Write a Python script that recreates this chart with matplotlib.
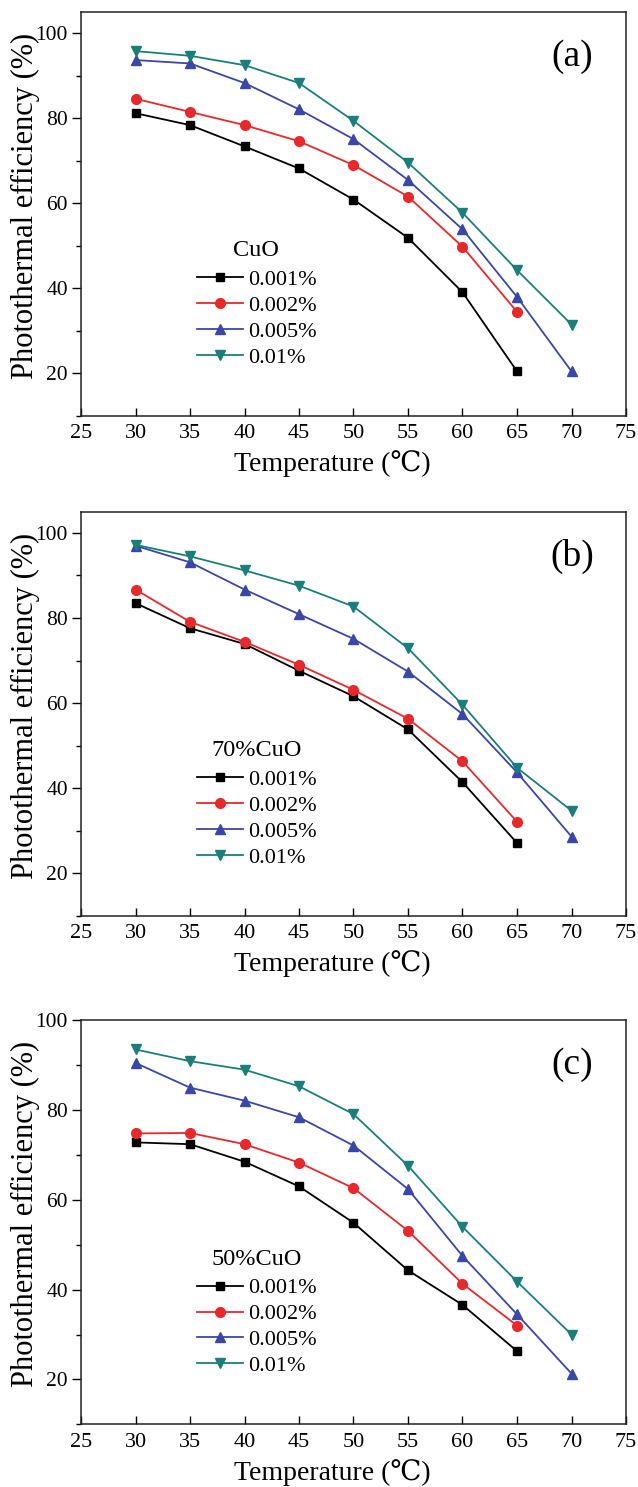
import matplotlib
matplotlib.use('Agg')
import matplotlib.pyplot as plt
from matplotlib.ticker import MultipleLocator

plt.rcParams['font.family'] = ['Liberation Serif', 'DejaVu Serif', 'Noto Sans CJK SC']

temps = [30, 35, 40, 45, 50, 55, 60, 65, 70]
labels = ['0.001%', '0.002%', '0.005%', '0.01%']

# panel (a): CuO
cuo_001 = [81.2, 78.4, 73.4, 68.2, 60.9, 51.9, 39.1, 20.5]
cuo_002 = [84.6, 81.5, 78.4, 74.6, 69.0, 61.6, 49.8, 34.5]
cuo_005 = [93.7, 92.9, 88.3, 82.1, 75.1, 65.5, 53.9, 38.0, 20.5]
cuo_01 = [95.8, 94.7, 92.5, 88.3, 79.4, 69.6, 57.8, 44.3, 31.5]

# panel (b): 70%CuO
c70_001 = [83.5, 77.6, 73.9, 67.6, 61.6, 53.8, 41.4, 27.1]
c70_002 = [86.7, 79.1, 74.4, 69.0, 63.1, 56.3, 46.3, 32.1]
c70_005 = [97.0, 93.1, 86.7, 80.9, 75.1, 67.4, 57.4, 43.7, 28.6]
c70_01 = [97.2, 94.5, 91.2, 87.6, 82.7, 72.9, 59.6, 44.8, 34.7]

# panel (c): 50%CuO
c50_001 = [72.8, 72.4, 68.5, 63.0, 54.9, 44.3, 36.6, 26.3]
c50_002 = [74.8, 74.9, 72.4, 68.3, 62.6, 53.1, 41.3, 32.0]
c50_005 = [90.5, 85.0, 82.1, 78.4, 72.1, 62.4, 47.5, 34.5, 21.3]
c50_01 = [93.5, 90.9, 89.0, 85.3, 79.1, 67.6, 54.0, 41.8, 30.0]

panels = [
    ('(a)', 'CuO', [cuo_001, cuo_002, cuo_005, cuo_01], 105),
    ('(b)', '70%CuO', [c70_001, c70_002, c70_005, c70_01], 105),
    ('(c)', '50%CuO', [c50_001, c50_002, c50_005, c50_01], 100),
]

colors = ['#000000', '#e8282a', '#3a46a8', '#1a7f7a']
markers = ['s', 'o', '^', 'v']
msizes = [6.3, 7, 7.8, 7.8]

W, H = 638, 1487
fig = plt.figure(figsize=(W / 100, H / 100), dpi=100)

bottoms = [416, 915.7, 1424.3]
for (tag, title, series, ytop), bot in zip(panels, bottoms):
    ax = fig.add_axes([81 / W, 1 - bot / H, 545 / W, 404 / H])
    for ys, c, m, ms, lab in zip(series, colors, markers, msizes, labels):
        ax.plot(temps[:len(ys)], ys, color=c, marker=m, markersize=ms,
                linewidth=1.3, label=lab)

    ax.set_xlim(25, 75)
    ax.set_ylim(10, ytop)
    ax.xaxis.set_major_locator(MultipleLocator(5))
    ax.yaxis.set_major_locator(MultipleLocator(20))
    ax.yaxis.set_minor_locator(MultipleLocator(10))
    ax.tick_params(axis='x', direction='in', length=5.5, width=1, labelsize=16, pad=6)
    ax.tick_params(axis='y', which='major', direction='out', length=6.5, width=1,
                   labelsize=15.5, pad=3)
    ax.tick_params(axis='y', which='minor', direction='out', length=3.5, width=1)
    for sp in ax.spines.values():
        sp.set_linewidth(1.1)
        sp.set_color('#222222')

    ax.set_xlabel('Temperature (℃)', fontsize=20)
    ax.xaxis.set_label_coords(0.462, -0.085)
    ax.set_ylabel('Photothermal efficiency (%)', fontsize=22)
    ax.yaxis.set_label_coords(-0.076, 0.52)
    ax.text(0.901, 0.89, tag, transform=ax.transAxes, fontsize=27,
            ha='center', va='center')

    leg = ax.legend(title=title, loc='upper left', bbox_to_anchor=(0.212, 0.435),
                    frameon=False, fontsize=16, title_fontsize=17.5,
                    handlelength=2.1, handletextpad=0.2, labelspacing=0.24,
                    borderpad=0, borderaxespad=0)
    leg._legend_box.sep = 6

plt.savefig('out.png', dpi=100)
